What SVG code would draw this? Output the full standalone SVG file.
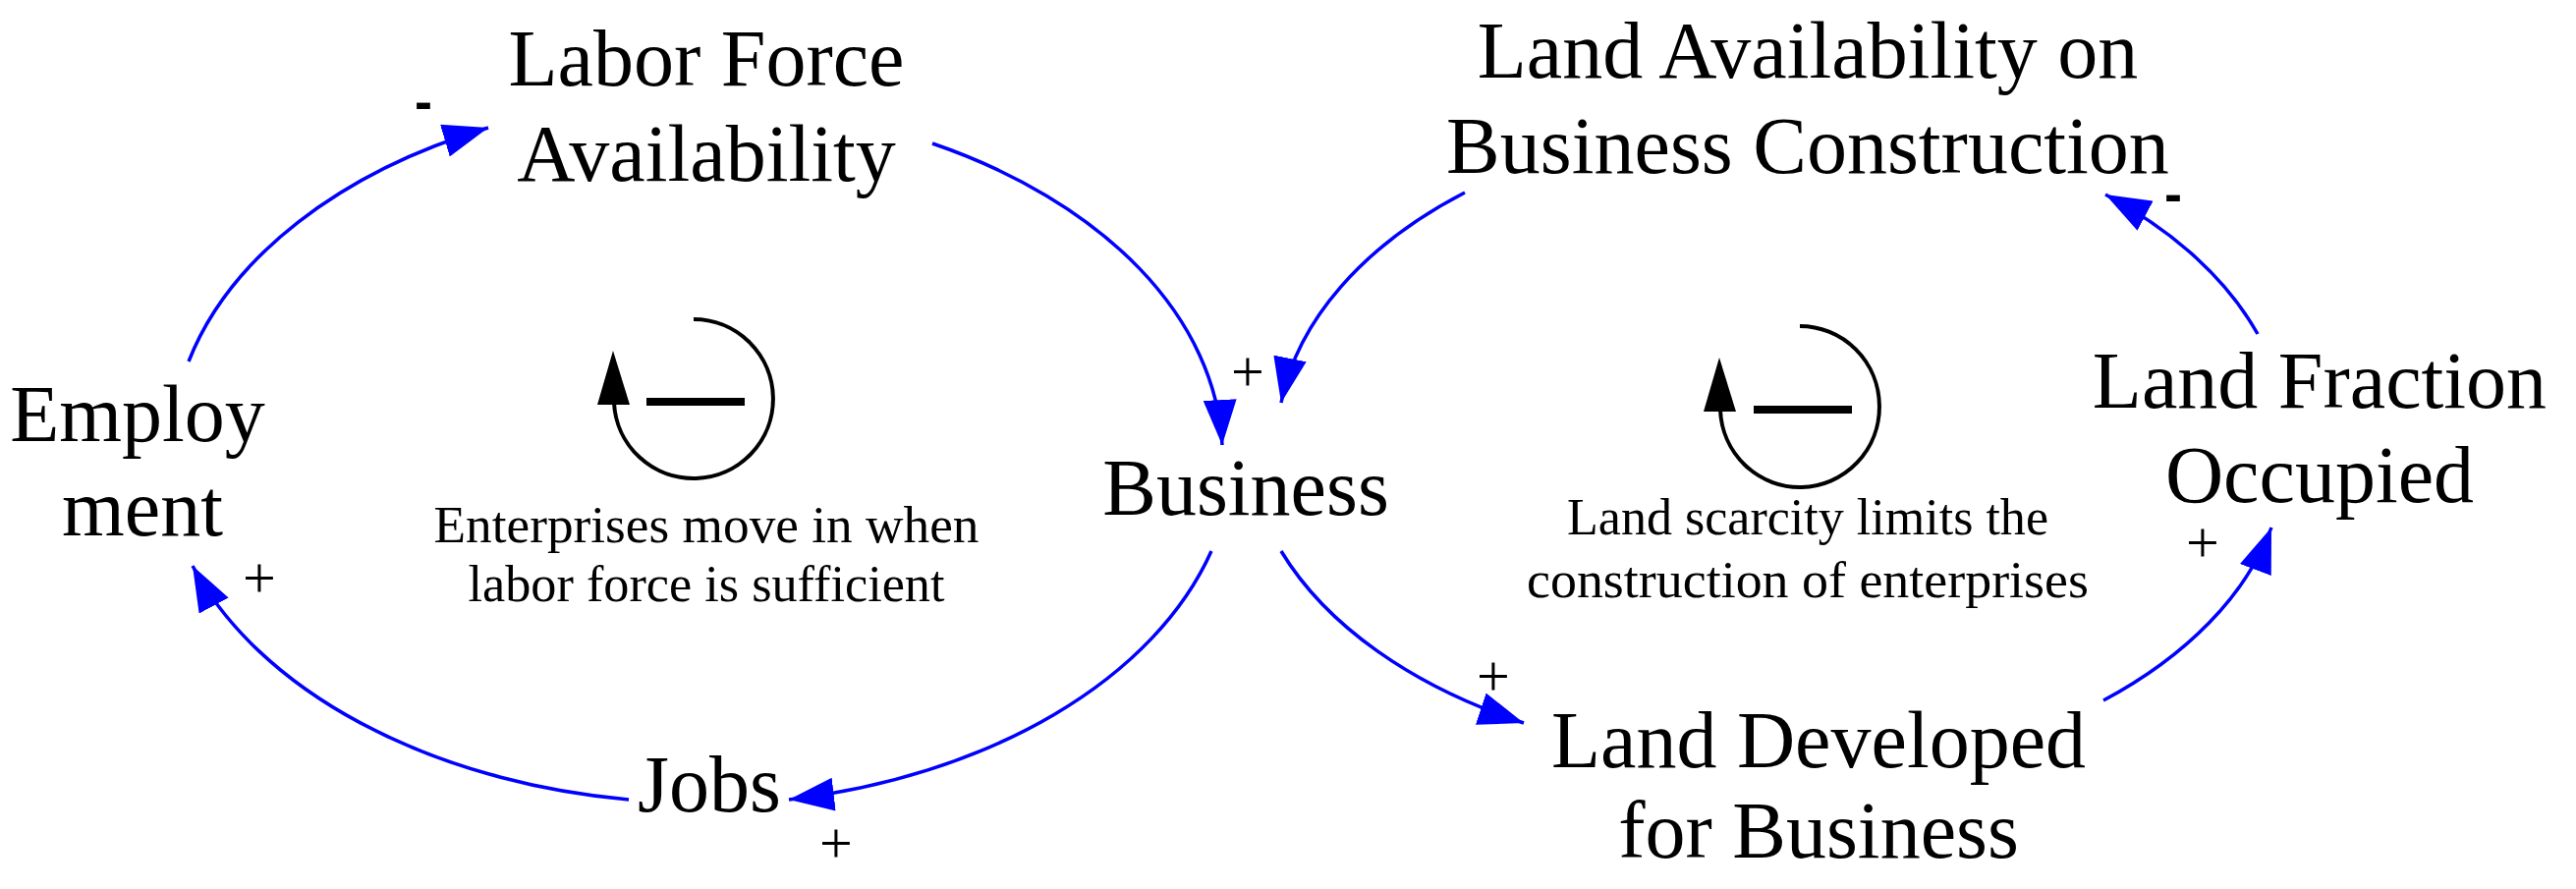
<svg xmlns="http://www.w3.org/2000/svg" width="2622" height="905" viewBox="0 0 2622 905">
<style>
.n{font-family:"Liberation Serif",serif;font-size:82px;fill:#000;text-anchor:middle}
.s{font-family:"Liberation Serif",serif;font-size:52px;fill:#000;text-anchor:middle}
.p{font-family:"Liberation Serif",serif;font-size:60px;fill:#000;text-anchor:middle}
.m{font-family:"Liberation Sans",sans-serif;font-size:54px;font-weight:bold;fill:#000;text-anchor:middle}
.c{fill:none;stroke:#0000FF;stroke-width:3.5}
.loop{fill:none;stroke:#000;stroke-width:4}
.bar{stroke:#000;stroke-width:8}
</style>
<defs>
<marker id="a" markerUnits="userSpaceOnUse" markerWidth="50" markerHeight="34" refX="46" refY="17" orient="auto">
<path d="M0,0 L46,17 L0,34 Z" fill="#0000FF"/>
</marker>
</defs>
<g id="connectors">
<path class="c" marker-end="url(#a)" d="M192,368 A550,360 0 0 1 497,130"/>
<path class="c" marker-end="url(#a)" d="M949,146 A550,360 0 0 1 1244,453"/>
<path class="c" marker-end="url(#a)" d="M1233,561 A550,360 0 0 1 803,814"/>
<path class="c" marker-end="url(#a)" d="M640,814 A550,360 0 0 1 196,576"/>
<path class="c" marker-end="url(#a)" d="M1491,196 A520,330 0 0 0 1304,410"/>
<path class="c" marker-end="url(#a)" d="M1304,561 A520,330 0 0 0 1551,736"/>
<path class="c" marker-end="url(#a)" d="M2141,713 A520,330 0 0 0 2312,537"/>
<path class="c" marker-end="url(#a)" d="M2298,340 A520,330 0 0 0 2143,198"/>
<text class="m" x="431" y="122">-</text>
<text class="p" x="1270" y="398">+</text>
<text class="p" x="851" y="878">+</text>
<text class="p" x="264" y="608">+</text>
<text class="p" x="1520" y="708">+</text>
<text class="p" x="2242" y="572">+</text>
<text class="m" x="2212" y="216">-</text>
</g>
<g id="labor"><text class="n" x="719" y="87">Labor Force</text><text class="n" x="719" y="184">Availability</text></g>
<g id="employment"><text class="n" x="140" y="449">Employ</text><text class="n" x="145" y="545">ment</text></g>
<g id="business"><text class="n" x="1268" y="524">Business</text></g>
<g id="jobs"><text class="n" x="722" y="826">Jobs</text></g>
<g id="landavail"><text class="n" x="1840" y="79">Land Availability on</text><text class="n" x="1840" y="176">Business Construction</text></g>
<g id="landfraction"><text class="n" x="2361" y="415">Land Fraction</text><text class="n" x="2361" y="511">Occupied</text></g>
<g id="landdev"><text class="n" x="1851" y="781">Land Developed</text><text class="n" x="1851" y="873">for Business</text></g>
<g id="loop1">
<path class="loop" d="M706,325 A81,81 0 1 1 625,410"/>
<polygon points="624,357 641,412 608,412" fill="#000"/>
<line class="bar" x1="658" y1="409" x2="758" y2="409"/>
<text class="s" x="719" y="552" textLength="555" lengthAdjust="spacingAndGlyphs">Enterprises move in when</text>
<text class="s" x="719" y="612" textLength="485" lengthAdjust="spacingAndGlyphs">labor force is sufficient</text>
</g>
<g id="loop2">
<path class="loop" d="M1832,332 A81,82 0 1 1 1751,417"/>
<polygon points="1750,364 1767,419 1734,419" fill="#000"/>
<line class="bar" x1="1785" y1="417" x2="1885" y2="417"/>
<text class="s" x="1840" y="544" textLength="490" lengthAdjust="spacingAndGlyphs">Land scarcity limits the</text>
<text class="s" x="1840" y="608" textLength="572" lengthAdjust="spacingAndGlyphs">construction of enterprises</text>
</g>
</svg>
